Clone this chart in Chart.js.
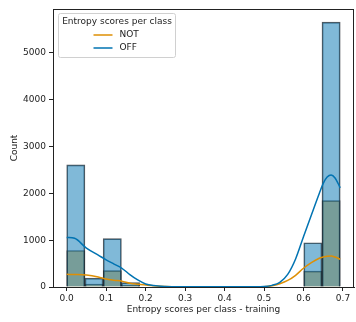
<!DOCTYPE html>
<html>
<head>
<meta charset="utf-8">
<script src="https://cdn.jsdelivr.net/npm/chart.js@4.4.0/dist/chart.umd.min.js"></script>
<style>
    body { margin: 0; background: #fff; }
    #hist_chart { display: block; }
</style>
</head>
<body>
<canvas id="hist_chart" width="356" height="322"></canvas>
<script>
// bin centres (15 bins between 0 and ln2)
const binCenters = [0.0231, 0.0693, 0.1155, 0.1617, 0.2079, 0.2541, 0.3003, 0.3466, 0.3928, 0.4390, 0.4852, 0.5314, 0.5776, 0.6238, 0.6700];
const notCounts = [780, 65, 350, 40, 0, 0, 0, 0, 0, 0, 0, 0, 0, 340, 1845];
const offCounts = [2610, 190, 1035, 95, 0, 0, 0, 0, 0, 0, 0, 0, 0, 945, 5660];

// kde curves
const kdeX = [0, 0.02, 0.05, 0.08, 0.1, 0.12, 0.14, 0.16, 0.18, 0.2, 0.22, 0.25, 0.3, 0.35, 0.4, 0.45, 0.5, 0.52, 0.54, 0.56, 0.58, 0.6, 0.62, 0.64, 0.65, 0.66, 0.67, 0.68, 0.693];
const offKde = [1060, 1040, 830, 680, 580, 490, 400, 265, 150, 65, 30, 12, 6, 4, 3, 3, 10, 35, 100, 270, 600, 1075, 1540, 2000, 2215, 2350, 2395, 2330, 2120];
const notKde = [270, 268, 258, 215, 170, 145, 125, 82, 60, 42, 25, 10, 4, 3, 2, 3, 8, 25, 70, 140, 250, 400, 520, 615, 640, 658, 660, 640, 592];

const xTicks = [0, 0.1, 0.2, 0.3, 0.4, 0.5, 0.6, 0.7];
const yTicks = [0, 1000, 2000, 3000, 4000, 5000];

const seriesNames = ['NOT', 'OFF'];
const legendTitle = 'Entropy scores per class';

window.onload = function(){

    const blue = '#0173b2';
    const orange = '#de8f05';
    const font = { family: 'DejaVu Sans', size: 9 };

    function pts(xs, ys){
        return xs.map(function(x, i){ return { x: x, y: ys[i] }; });
    }

    // рамка вокруг области графика
    const framePlugin = {
        id: 'frame',
        afterDatasetsDraw: function(chart){
            const a = chart.chartArea;
            const c = chart.ctx;
            c.save();
            c.strokeStyle = '#222';
            c.lineWidth = 1;
            c.strokeRect(a.left + 0.5, a.top + 0.5, a.right - a.left - 1, a.bottom - a.top);
            c.restore();
        }
    };

    // легенда внутри графика
    const legendPlugin = {
        id: 'innerLegend',
        afterDraw: function(chart){
            const a = chart.chartArea;
            const c = chart.ctx;
            const bx = a.left + 5.5, by = a.top + 4.5, bw = 117, bh = 44;
            c.save();
            c.fillStyle = 'rgba(255,255,255,0.8)';
            c.strokeStyle = '#d0d0d0';
            c.lineWidth = 1;
            c.beginPath();
            c.roundRect(bx, by, bw, bh, 2);
            c.fill();
            c.stroke();
            c.fillStyle = '#222';
            c.font = '9px "DejaVu Sans"';
            c.textBaseline = 'middle';
            c.textAlign = 'center';
            c.fillText(legendTitle, bx + bw / 2, by + 8.5);
            c.textAlign = 'left';
            const cols = [orange, blue];
            seriesNames.forEach(function(name, i){
                const y = by + 21.5 + i * 13;
                c.strokeStyle = cols[i];
                c.lineWidth = 1.5;
                c.beginPath();
                c.moveTo(bx + 35, y);
                c.lineTo(bx + 54, y);
                c.stroke();
                c.fillText(name, bx + 61, y);
            });
            c.restore();
        }
    };

    const ctx = document.getElementById('hist_chart');
    const histChart = new Chart(ctx, {
        type: 'bar',
        data: {
            datasets: [
                {
                    type: 'line',
                    label: 'OFF kde',
                    data: pts(kdeX, offKde),
                    borderColor: blue,
                    borderWidth: 1.5,
                    pointRadius: 0,
                    cubicInterpolationMode: 'monotone',
                    order: 0
                },
                {
                    type: 'line',
                    label: 'NOT kde',
                    data: pts(kdeX, notKde),
                    borderColor: orange,
                    borderWidth: 1.5,
                    pointRadius: 0,
                    cubicInterpolationMode: 'monotone',
                    order: 0
                },
                {
                    label: 'OFF',
                    data: pts(binCenters, offCounts),
                    backgroundColor: 'rgba(1,115,178,0.5)',
                    borderColor: 'rgba(25,30,35,0.75)',
                    borderWidth: 1,
                    order: 1
                },
                {
                    label: 'NOT',
                    data: pts(binCenters, notCounts),
                    backgroundColor: 'rgba(222,143,5,0.5)',
                    borderColor: 'rgba(25,30,35,0.75)',
                    borderWidth: 1,
                    order: 2
                }
            ]
        },
        options: {
            responsive: false,
            animation: false,
            devicePixelRatio: 1,
            layout: { padding: { left: 0, top: 9, right: 2, bottom: 0 } },
            datasets: {
                bar: { grouped: false, barPercentage: 1, categoryPercentage: 1 }
            },
            plugins: {
                legend: { display: false },
                tooltip: { enabled: false }
            },
            scales: {
                x: {
                    type: 'linear',
                    min: -0.0347,
                    max: 0.728,
                    offset: false,
                    afterBuildTicks: function(scale){
                        scale.ticks = xTicks.map(function(v){ return { value: v }; });
                    },
                    afterFit: function(scale){ scale.height = 35; },
                    grid: { display: true, drawOnChartArea: false, offset: false, tickLength: 4, tickColor: '#222' },
                    border: { display: true, color: '#222' },
                    ticks: {
                        color: '#222',
                        font: font,
                        padding: 2,
                        maxRotation: 0,
                        callback: function(v){ return v.toFixed(1); }
                    },
                    title: {
                        display: true,
                        text: 'Entropy scores per class - training',
                        color: '#222',
                        font: font,
                        padding: { top: 0, bottom: 7 }
                    }
                },
                y: {
                    min: 0,
                    max: 5940,
                    afterBuildTicks: function(scale){
                        scale.ticks = yTicks.map(function(v){ return { value: v }; });
                    },
                    afterFit: function(scale){ scale.width = 53; },
                    grid: { display: true, drawOnChartArea: false, tickLength: 4, tickColor: '#222' },
                    border: { display: true, color: '#222' },
                    ticks: {
                        color: '#222',
                        font: font,
                        padding: 3,
                        callback: function(v){ return String(v); }
                    },
                    title: {
                        display: true,
                        text: 'Count',
                        color: '#222',
                        font: font,
                        padding: { top: 9, bottom: 0 }
                    }
                }
            }
        },
        plugins: [framePlugin, legendPlugin]
    });
}
</script>
</body>
</html>
